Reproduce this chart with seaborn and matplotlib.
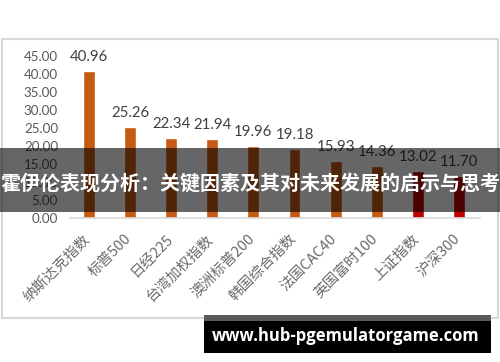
import matplotlib
matplotlib.use("Agg")
import matplotlib.pyplot as plt
import matplotlib.transforms as mtransforms
from matplotlib.patches import Rectangle
import seaborn as sns
import pandas as pd

categories = ["纳斯达克指数", "标普500", "日经225", "台湾加权指数", "澳洲标普200",
              "韩国综合指数", "法国CAC40", "英国富时100", "上证指数", "沪深300"]
values = [40.96, 25.26, 22.34, 21.94, 19.96, 19.18, 15.93, 14.36, 13.02, 11.70]
bar_colors = ["#C55A11"] * 8 + ["#C00000"] * 2
y_ticks = [0, 5, 10, 15, 20, 25, 30, 35, 40, 45]
title_text = "霍伊伦表现分析：关键因素及其对未来发展的启示与思考"
watermark = "www.hub-pgemulatorgame.com"

sns.set_theme(style="white")
plt.rcParams['font.family'] = ['Lato', 'Noto Sans CJK SC', 'DejaVu Sans']

W, H = 500, 362
fig = plt.figure(figsize=(5, 3.62), dpi=100)
fig.patch.set_facecolor("white")

# chart frame
fig.patches.append(Rectangle((2 / W, 1 - 318 / H), 496 / W, 279 / H,
                             transform=fig.transFigure, fill=False,
                             edgecolor="#d9d9d9", linewidth=1.5, zorder=0))

ax = fig.add_axes([70 / W, 1 - 218 / H, 410 / W, 162 / H])
df = pd.DataFrame({"cat": categories, "val": values})
sns.barplot(data=df, x="cat", y="val", hue="cat", palette=bar_colors,
            legend=False, width=0.29, ax=ax, saturation=1)

ax.set_xlim(-0.46, 9.51)
ax.set_ylim(0, 45)
ax.set_xlabel("")
ax.set_ylabel("")
for s in ["top", "right", "left"]:
    ax.spines[s].set_visible(False)
ax.spines["bottom"].set_color("#d9d9d9")
ax.spines["bottom"].set_linewidth(1.2)

ax.set_yticks(y_ticks)
ax.set_yticklabels([f"{v:.2f}" for v in y_ticks], fontsize=9.6, color="#595959",
                   family=['Lato', 'DejaVu Sans'])
ax.tick_params(axis="y", length=0, pad=8.6)

ax.set_xticks(range(len(categories)))
ax.set_xticklabels(categories, rotation=45, ha="right", va="top",
                   fontsize=10.5, color="#6b6b6b",
                   family=['Noto Sans CJK SC', 'DejaVu Sans'])
ax.tick_params(axis="x", length=0, pad=10)
off = mtransforms.ScaledTranslation(4 / 100, 0, fig.dpi_scale_trans)
for lab in ax.get_xticklabels():
    lab.set_transform(lab.get_transform() + off)

for cont in ax.containers:
    ax.bar_label(cont, fmt="%.2f", padding=5, fontsize=10.8, color="#404040",
                 family=['Lato', 'DejaVu Sans'])

# overlay band with title
fig.patches.append(Rectangle((0, 1 - 212 / H), 1, 64 / H, transform=fig.transFigure,
                             facecolor="black", alpha=0.6, edgecolor="none", zorder=5))
fig.text(0.5, 1 - 183 / H, title_text, ha="center", va="center", color="white",
         fontsize=14.4, fontweight="bold", family=['Noto Sans CJK SC', 'DejaVu Sans'],
         zorder=6)

# watermark box
fig.patches.append(Rectangle((204 / W, 1 - 321 / H), 287 / W, 6 / H, transform=fig.transFigure,
                             facecolor="#5a5a5a", edgecolor="none", zorder=5))
fig.patches.append(Rectangle((204 / W, 1 - 353 / H), 287 / W, 32 / H, transform=fig.transFigure,
                             facecolor="black", edgecolor="none", zorder=5))
fig.text(346 / W, 1 - 336 / H, watermark, ha="center", va="center", color="white",
         fontsize=12, fontweight="bold", family=['Open Sans', 'DejaVu Sans'], zorder=6)

fig.savefig("out.png", dpi=100)
